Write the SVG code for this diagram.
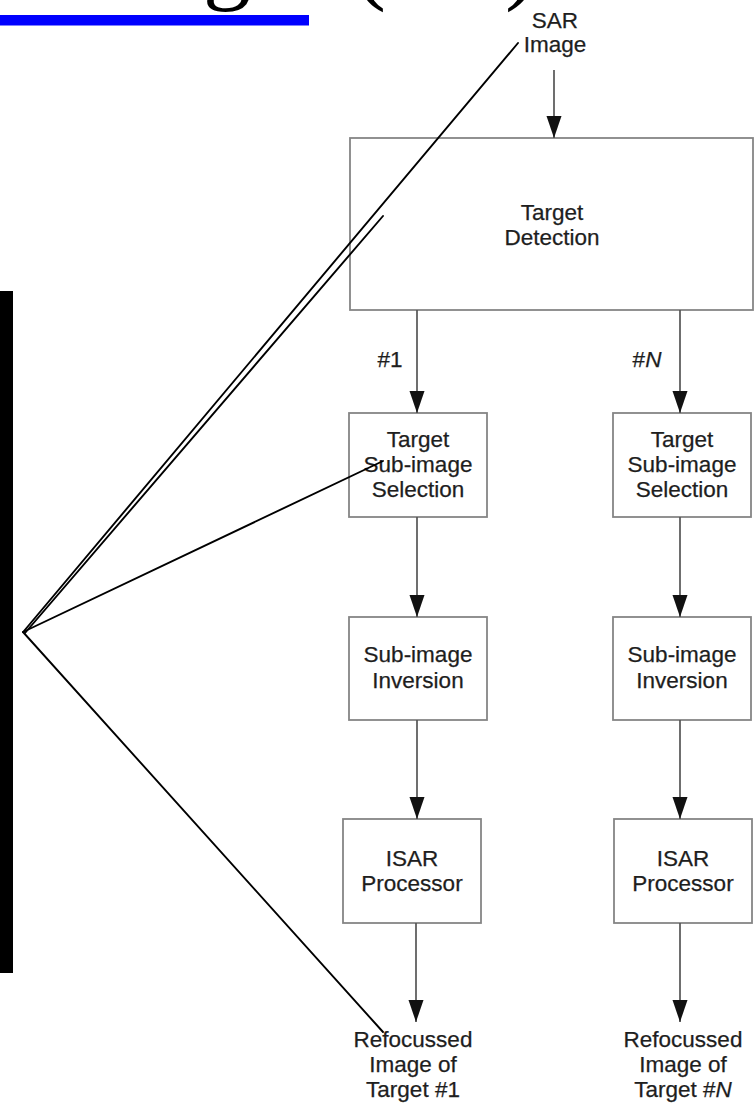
<svg xmlns="http://www.w3.org/2000/svg" width="754" height="1105" viewBox="0 0 754 1105">
  <style>
    .box { fill: #ffffff; stroke: #858585; stroke-width: 1.8; }
    .lbl { font-family: "Liberation Sans", Arial, sans-serif; font-size: 22.5px; fill: #1e1e1e; stroke: #1e1e1e; stroke-width: 0.25; text-anchor: middle; }
    .flow { stroke: #555555; stroke-width: 1.7; fill: none; marker-end: url(#head); }
    .callout { stroke: #000000; stroke-width: 1.9; fill: none; stroke-linecap: round; }
    .title { font-family: "Liberation Serif", "Times New Roman", serif; font-size: 96px; fill: #000000; }
  </style>
  <defs>
    <marker id="head" markerUnits="userSpaceOnUse" markerWidth="22" markerHeight="16" refX="22" refY="8" orient="auto">
      <path d="M0,0.5 L22,8 L0,15.5 z" fill="#111111"/>
    </marker>
  </defs>

  <rect x="0" y="0" width="754" height="1105" fill="#ffffff"/>

  <!-- heading, mostly above the top edge -->
  <g id="heading">
    <text class="title" y="-8"><tspan x="203">g</tspan><tspan x="354">(</tspan><tspan x="505">)</tspan></text>
    <rect x="0" y="15" width="309" height="10.5" fill="#0000ff"/>
  </g>

  <!-- black side bar -->
  <rect id="sidebar" x="0" y="291" width="13" height="682" fill="#000000"/>

  <!-- input label -->
  <g id="sar-image">
    <text class="lbl" x="555" y="28">SAR</text>
    <text class="lbl" x="555" y="52">Image</text>
  </g>

  <g id="target-detection">
    <rect class="box" x="350" y="138" width="403" height="172"/>
    <text class="lbl" x="552" y="220">Target</text>
    <text class="lbl" x="552" y="245">Detection</text>
  </g>

  <g id="branch-labels">
    <text class="lbl" x="390" y="367">#1</text>
    <text class="lbl" x="647" y="367">#<tspan font-style="italic">N</tspan></text>
  </g>

  <g id="selection-1">
    <rect class="box" x="349" y="413" width="138" height="104"/>
    <text class="lbl" x="418" y="447">Target</text>
    <text class="lbl" x="418" y="472">Sub-image</text>
    <text class="lbl" x="418" y="497">Selection</text>
  </g>
  <g id="selection-n">
    <rect class="box" x="613" y="413" width="138" height="104"/>
    <text class="lbl" x="682" y="447">Target</text>
    <text class="lbl" x="682" y="472">Sub-image</text>
    <text class="lbl" x="682" y="497">Selection</text>
  </g>

  <g id="inversion-1">
    <rect class="box" x="349" y="617" width="138" height="103"/>
    <text class="lbl" x="418" y="662">Sub-image</text>
    <text class="lbl" x="418" y="688">Inversion</text>
  </g>
  <g id="inversion-n">
    <rect class="box" x="613" y="617" width="138" height="103"/>
    <text class="lbl" x="682" y="662">Sub-image</text>
    <text class="lbl" x="682" y="688">Inversion</text>
  </g>

  <g id="isar-1">
    <rect class="box" x="343" y="819" width="138" height="104"/>
    <text class="lbl" x="412" y="866">ISAR</text>
    <text class="lbl" x="412" y="891">Processor</text>
  </g>
  <g id="isar-n">
    <rect class="box" x="614" y="819" width="138" height="104"/>
    <text class="lbl" x="683" y="866">ISAR</text>
    <text class="lbl" x="683" y="891">Processor</text>
  </g>

  <g id="output-1">
    <text class="lbl" x="413" y="1047">Refocussed</text>
    <text class="lbl" x="413" y="1072">Image of</text>
    <text class="lbl" x="413" y="1097">Target #1</text>
  </g>
  <g id="output-n">
    <text class="lbl" x="683" y="1047">Refocussed</text>
    <text class="lbl" x="683" y="1072">Image of</text>
    <text class="lbl" x="683" y="1097">Target #<tspan font-style="italic">N</tspan></text>
  </g>

  <!-- flow arrows -->
  <g id="connectors">
    <line class="flow" x1="554" y1="70" x2="554" y2="138"/>
    <line class="flow" x1="417" y1="310" x2="417" y2="413"/>
    <line class="flow" x1="680" y1="310" x2="680" y2="413"/>
    <line class="flow" x1="417" y1="517" x2="417" y2="617"/>
    <line class="flow" x1="680" y1="517" x2="680" y2="617"/>
    <line class="flow" x1="417" y1="720" x2="417" y2="819"/>
    <line class="flow" x1="680" y1="720" x2="680" y2="819"/>
    <line class="flow" x1="416" y1="923" x2="416" y2="1022"/>
    <line class="flow" x1="680" y1="923" x2="680" y2="1022"/>
  </g>

  <!-- callout lines fanning out from one point -->
  <g id="callouts">
    <line class="callout" x1="24" y1="631" x2="518" y2="43"/>
    <line class="callout" x1="25" y1="633" x2="383" y2="216"/>
    <line class="callout" x1="23" y1="632" x2="383" y2="461"/>
    <line class="callout" x1="23" y1="632" x2="383" y2="1032"/>
  </g>
</svg>
